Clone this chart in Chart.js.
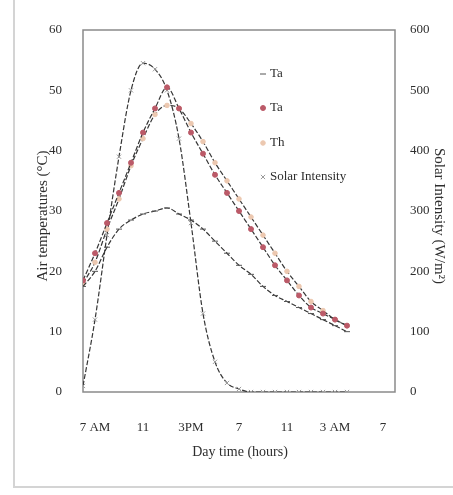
<!DOCTYPE html>
<html>
<head>
<meta charset="utf-8">
<script src="https://cdn.jsdelivr.net/npm/chart.js@4"></script>
<style>
  body { margin: 0; background: #fff; }
  canvas { display: block; }
</style>
</head>
<body>
<canvas id="chart" width="453" height="495"></canvas>
<script>
// hourly readings, 6 AM (6) to 4 AM next day (28)
const hours = [6, 7, 8, 9, 10, 11, 12, 13, 14, 15, 16, 17, 18, 19, 20, 21, 22, 23, 24, 25, 26, 27, 28];
const taLow = [17.5, 20, 24, 27, 28.5, 29.5, 30, 30.5, 29.5, 28.5, 27, 25, 23, 21, 19.5, 17.5, 16, 15, 14, 13, 12, 11, 10];
const taRed = [18.5, 23, 28, 33, 38, 43, 47, 50.5, 47, 43, 39.5, 36, 33, 30, 27, 24, 21, 18.5, 16, 14, 13, 12, 11];
const th = [18, 21.5, 27, 32, 37.5, 42, 46, 47.5, 47, 44.5, 41.5, 38, 35, 32, 29, 26, 23, 20, 17.5, 15, 13.5, 12, 11];
const solar = [10, 120, 260, 390, 500, 545, 535, 500, 420, 280, 130, 50, 15, 5, 0, 0, 0, 0, 0, 0, 0, 0, 0];

const seriesNames = ["Ta", "Ta", "Th", "Solar Intensity"];
const xTickValues = [7, 11, 15, 19, 23, 27, 31];
const xTickLabels = ["7 AM", "11", "3PM", "7", "11", "3 AM", "7"];

const serif = "'Liberation Serif', 'DejaVu Serif', serif";
const textColor = "#2e2e2e";

function pts(vals) {
  return hours.map((h, i) => ({ x: h, y: vals[i] }));
}

function series(label, vals, axis, style, color, radius) {
  return {
    label: label,
    data: pts(vals),
    yAxisID: axis,
    borderColor: "#363636",
    borderWidth: 1.2,
    borderDash: [5, 2],
    cubicInterpolationMode: "monotone",
    pointStyle: style,
    pointRadius: radius,
    pointBorderColor: color,
    pointBackgroundColor: color,
    pointBorderWidth: 1
  };
}

const extras = {
  id: "extras",
  beforeDraw(chart) {
    const c = chart.ctx;
    c.save();
    c.strokeStyle = "#d4d4d4";
    c.lineWidth = 2;
    c.beginPath();
    c.moveTo(14, 0);
    c.lineTo(14, 487);
    c.lineTo(453, 487);
    c.stroke();
    c.restore();
  },
  beforeDatasetsDraw(chart) {
    const a = chart.chartArea;
    const c = chart.ctx;
    c.save();
    c.strokeStyle = "#8a8a8a";
    c.lineWidth = 1.5;
    c.strokeRect(a.left, a.top, a.right - a.left, a.bottom - a.top);
    c.restore();
  },
  afterDraw(chart) {
    const c = chart.ctx;
    c.save();
    c.fillStyle = textColor;
    c.textBaseline = "middle";

    // axis titles
    c.font = "14px " + serif;
    c.textAlign = "center";
    c.fillText("Day time (hours)", 240, 452);

    c.font = "15px " + serif;
    c.save();
    c.translate(43, 216);
    c.rotate(-Math.PI / 2);
    c.fillText("Air temperatures (°C)", 0, 0);
    c.restore();

    c.save();
    c.translate(439, 216);
    c.rotate(Math.PI / 2);
    c.fillText("Solar Intensity (W/m²)", 0, 0);
    c.restore();

    // legend inside plot
    const legendY = [74, 108, 143, 177];
    c.font = "13px " + serif;
    c.textAlign = "left";
    chart.data.datasets.forEach((ds, i) => {
      c.fillStyle = ds.pointBackgroundColor;
      c.strokeStyle = ds.pointBorderColor;
      c.lineWidth = 1;
      Chart.helpers.drawPoint(c, { pointStyle: ds.pointStyle, radius: ds.pointRadius, borderWidth: 1, rotation: 0 }, 263, legendY[i]);
      c.fillStyle = textColor;
      c.fillText(ds.label, 270, legendY[i]);
    });
    c.restore();
  }
};

const ctx = document.getElementById("chart").getContext("2d");

window.tempChart = new Chart(ctx, {
  type: "line",
  data: {
    datasets: [
      series(seriesNames[0], taLow, "y", "line", "#555", 3),
      series(seriesNames[1], taRed, "y", "circle", "#bb5a68", 2.5),
      series(seriesNames[2], th, "y", "circle", "#ecc8b0", 2.3),
      series(seriesNames[3], solar, "y2", "crossRot", "#9a9a9a", 3)
    ]
  },
  options: {
    responsive: false,
    animation: false,
    devicePixelRatio: 1,
    layout: { padding: { top: 30, left: 0, right: 0, bottom: 0 } },
    plugins: {
      legend: { display: false },
      tooltip: { enabled: false }
    },
    scales: {
      x: {
        type: "linear",
        min: 6,
        max: 32,
        grid: { display: false },
        border: { display: false },
        afterBuildTicks: s => {
          s.ticks = xTickValues.map(v => ({ value: v }));
        },
        ticks: {
          autoSkip: false,
          maxRotation: 0,
          padding: 20,
          color: textColor,
          font: { family: serif, size: 13 },
          callback: v => xTickLabels[xTickValues.indexOf(v)]
        },
        afterFit: s => { s.height = 103; }
      },
      y: {
        position: "left",
        min: 0,
        max: 60,
        grid: { display: false },
        border: { display: false },
        ticks: {
          stepSize: 10,
          padding: 13,
          color: textColor,
          font: { family: serif, size: 13 }
        },
        afterFit: s => { s.width = 83; }
      },
      y2: {
        position: "right",
        min: 0,
        max: 600,
        grid: { display: false },
        border: { display: false },
        ticks: {
          stepSize: 100,
          padding: 7,
          color: textColor,
          font: { family: serif, size: 13 }
        },
        afterFit: s => { s.width = 58; }
      }
    }
  },
  plugins: [extras]
});
</script>
</body>
</html>
